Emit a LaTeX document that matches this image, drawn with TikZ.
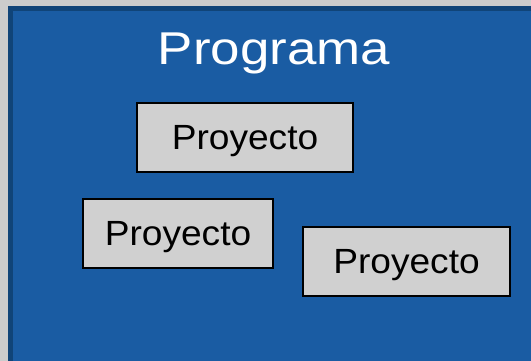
\documentclass[tikz,border=0pt]{standalone}
\usepackage{fontspec}
\usepackage{graphicx}
\setmainfont{Liberation Sans}
\definecolor{pagegrey}{HTML}{CCCCCC}
\definecolor{panelblue}{HTML}{1A5CA3}
\definecolor{paneledge}{HTML}{104478}
\definecolor{boxgrey}{HTML}{D0D0D0}
\newcommand{\widetext}[2]{\scalebox{#1}[1]{#2}}
\begin{document}
\begin{tikzpicture}[x=1pt,y=1pt,
  projbox/.style={draw=black,line width=1.5pt,fill=boxgrey,inner sep=0pt,
    minimum height=69pt,font=\fontsize{35}{40}\selectfont,
    text height=25pt,text depth=0pt},
  title/.style={text=white,font=\fontsize{46}{52}\selectfont,inner sep=0pt}]
  \useasboundingbox (0,0) rectangle (531,361);
  \clip (0,0) rectangle (531,361);
  % page background
  \fill[pagegrey] (0,0) rectangle (531,361);
  % blue programme panel, running off the right and bottom edges
  \draw[paneledge,line width=5pt,fill=panelblue] (10.5,352.5) rectangle (560,-20);
  % title
  \node[title,anchor=base] (prog) at (274,296) {\widetext{1.15}{Programa}};
  % project boxes
  \node[projbox,minimum width=216pt] (p1) at (245,223.5) {\widetext{1.06}{Proyecto}};
  \node[projbox,minimum width=190pt] (p2) at (178,127.5) {\widetext{1.06}{Proyecto}};
  \node[projbox,minimum width=207pt] (p3) at (406.5,99.5) {\widetext{1.06}{Proyecto}};
\end{tikzpicture}
\end{document}
